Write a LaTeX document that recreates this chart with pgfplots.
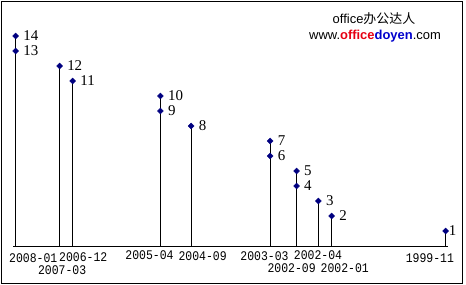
\documentclass[border=0pt]{standalone}
\usepackage{graphicx}
\usepackage{pgfplots}
\pgfplotsset{compat=1.18}
\usepackage{fontspec}
\setmainfont{Liberation Serif}
\newfontfamily\cjk{Noto Sans CJK SC}
\newfontfamily\arialf{Liberation Sans}
\newfontfamily\monof{Liberation Mono}
\definecolor{navy}{RGB}{0,0,128}
\definecolor{odred}{RGB}{230,0,18}
\definecolor{odblue}{RGB}{0,0,204}
\tikzset{tl/.style={font=\monof\fontsize{11.5}{12}\selectfont, inner sep=0pt,
  text height=8.1bp, text depth=0pt}}
\newcommand{\tlab}[1]{\scalebox{1}[1.15]{#1}}
\begin{document}
\begin{tikzpicture}
\begin{axis}[
 x=4.388bp, y=15bp,
 x dir=reverse,
 xmin=-0.5, xmax=98.6, ymin=0, ymax=16,
 axis x line=bottom, axis y line=none,
 x axis line style={-, line width=0.9bp, black},
 xtick=\empty, ytick=\empty,
 clip=false,
 /pgf/number format/assume math mode=true,
]
\path (axis cs:101.574,16.4) rectangle (axis cs:-4.626,-2.6);
\draw[line width=1bp] (axis cs:101.23,16.3) rectangle (axis cs:-3.83,-2.5);
% stems (months since 1999-11)
\addplot[ycomb, black, line width=0.9bp, no markers] coordinates {
 (98,14) (88,12) (85,11) (65,10) (58,8) (40,7) (34,5) (29,3) (26,2) (0,1)};
% points
\addplot[only marks, mark=square*, mark size=2.1bp,
 mark options={rotate=45, fill=navy, draw=navy},
 nodes near coords,
 every node near coord/.append style={anchor=west, inner sep=0pt, xshift=7.5bp,
   font=\fontsize{15}{15}\selectfont, text=black}] coordinates {
 (98,14) (98,13) (88,12) (85,11) (65,10) (65,9) (58,8) (40,7) (40,6)
 (34,5) (34,4) (29,3) (26,2)};
\addplot[only marks, mark=square*, mark size=2.1bp,
 mark options={rotate=45, fill=navy, draw=navy},
 nodes near coords,
 every node near coord/.append style={anchor=west, inner sep=0pt, xshift=3bp,
   font=\fontsize{15}{15}\selectfont, text=black}] coordinates {(0,1)};
% date labels
\node[tl] at (axis cs:94.0,-0.84) {\tlab{2008-01}};
\node[tl] at (axis cs:87.4,-1.6) {\tlab{2007-03}};
\node[tl] at (axis cs:82.6,-0.753) {\tlab{2006-12}};
\node[tl] at (axis cs:67.5,-0.647) {\tlab{2005-04}};
\node[tl] at (axis cs:55.4,-0.713) {\tlab{2004-09}};
\node[tl] at (axis cs:41.3,-0.713) {\tlab{2003-03}};
\node[tl] at (axis cs:35.1,-1.5) {\tlab{2002-09}};
\node[tl] at (axis cs:29.1,-0.647) {\tlab{2002-04}};
\node[tl] at (axis cs:23.0,-1.5) {\tlab{2002-01}};
\node[tl] at (axis cs:3.6,-0.82) {\tlab{1999-11}};
% watermark title
\node[inner sep=0pt, font=\fontsize{13}{13}\selectfont] at (axis cs:16.34,15.18) {{\arialf office}{\cjk 办公达人}};
\node[inner sep=0pt, font=\arialf\fontsize{13}{13}\selectfont] at (axis cs:16.11,14.02) {www.\textcolor{odred}{\bfseries office}\textcolor{odblue}{\bfseries doyen}.com};
\end{axis}
\end{tikzpicture}
\end{document}
